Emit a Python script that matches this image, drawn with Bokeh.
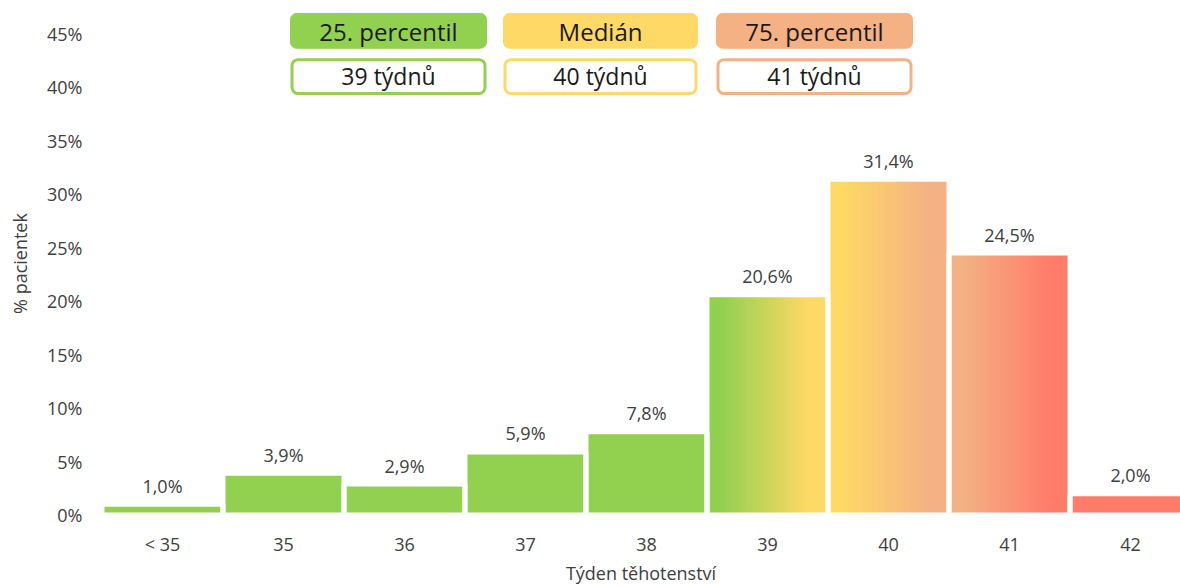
import math
from bokeh.plotting import figure
from bokeh.models import Range1d, FixedTicker, PrintfTickFormatter, BoxAnnotation, Label, ColumnDataSource
from bokeh.core.properties import value
from bokeh.embed import file_html
from bokeh.resources import INLINE

# ---- data ----
categories = ["< 35", "35", "36", "37", "38", "39", "40", "41", "42"]
percent = [1.0, 3.9, 2.9, 5.9, 7.8, 20.6, 31.4, 24.5, 2.0]
y_ticks = [0, 5, 10, 15, 20, 25, 30, 35, 40, 45]
stat_names = ["25. percentil", "Medián", "75. percentil"]
stat_values = ["39 týdnů", "40 týdnů", "41 týdnů"]

# ---- styles ----
GREEN = "#92D050"
YELLOW = "#FFD966"
SALMON = "#F4B183"
RED = "#FF7C69"
bar_colors = [(GREEN, GREEN)] * 5 + [(GREEN, YELLOW), (YELLOW, SALMON), (SALMON, RED), (RED, RED)]
stat_colors = [GREEN, YELLOW, SALMON]
FONT = "Open Sans"
TXT = "#404040"

W, H = 1180, 587
LEFT = 101
BOTTOM = 58            # frame bottom at H - BOTTOM
BASE = 517.5           # pixel row of the 0 % baseline
PX_PER_CAT = 121
PX_PER_PCT = 10.756
x0 = -0.504
x1 = x0 + (W - LEFT) / PX_PER_CAT
y0 = -((H - BOTTOM) - BASE) / PX_PER_PCT
y1 = BASE / PX_PER_PCT

p = figure(width=W, height=H, output_backend="svg", toolbar_location=None,
           x_range=Range1d(x0, x1), y_range=Range1d(y0, y1),
           min_border_left=LEFT, min_border_right=0, min_border_top=0,
           min_border_bottom=BOTTOM)
p.outline_line_color = None
p.xgrid.grid_line_color = None
p.ygrid.grid_line_color = None
p.background_fill_color = "white"
p.border_fill_color = "white"


def px_x(px):
    return x0 + (px - LEFT) / PX_PER_CAT


def px_y(py):
    return (BASE - py) / PX_PER_PCT


def hexrgb(h):
    h = h.lstrip("#")
    return tuple(int(h[i:i + 2], 16) for i in (0, 2, 4))


def mix(a, b, t):
    ra, rb = hexrgb(a), hexrgb(b)
    return "#%02x%02x%02x" % tuple(round(ra[k] + (rb[k] - ra[k]) * t) for k in range(3))


# ---- bars (gradient via vertical slices, white outline on top) ----
HALF = 0.5
N = 60
lefts, rights, tops, cols = [], [], [], []
for i, v in enumerate(percent):
    ca, cb = bar_colors[i]
    if ca == cb:
        lefts.append(i - HALF); rights.append(i + HALF); tops.append(v); cols.append(ca)
        continue
    w = 2 * HALF / N
    for k in range(N):
        t = (k + 0.5) / N
        tt = min(max((t - 0.12) / 0.72, 0.0), 1.0)
        l = i - HALF + k * w
        r = l + w * (1.6 if k < N - 1 else 1.0)
        lefts.append(l); rights.append(r); tops.append(v); cols.append(mix(ca, cb, tt))

src = ColumnDataSource(dict(left=lefts, right=rights, top=tops, bottom=[0] * len(tops), color=cols))
p.quad(left="left", right="right", top="top", bottom="bottom", fill_color="color",
       line_color=None, source=src)
out_src = ColumnDataSource(dict(left=[i - HALF for i in range(len(percent))],
                                right=[i + HALF for i in range(len(percent))],
                                top=percent, bottom=[0] * len(percent)))
p.quad(left="left", right="right", top="top", bottom="bottom", fill_color=None,
       line_color="white", line_width=5, source=out_src)

# ---- value labels ----
lab_src = ColumnDataSource(dict(x=list(range(len(percent))), y=percent,
                                t=[("%.1f" % v).replace(".", ",") + "%" for v in percent]))
p.text(x="x", y="y", text="t", source=lab_src, text_align="center", text_baseline="middle",
       y_offset=-18.5, text_font=value(FONT), text_font_size="18px", text_color=TXT)

# ---- axes ----
p.xaxis.ticker = FixedTicker(ticks=list(range(len(categories))))
p.xaxis.major_label_overrides = {i: c for i, c in enumerate(categories)}
p.yaxis.ticker = FixedTicker(ticks=y_ticks)
p.yaxis.formatter = PrintfTickFormatter(format="%d%%")
for ax in (p.xaxis[0], p.yaxis[0]):
    ax.axis_line_color = None
    ax.major_tick_line_color = None
    ax.minor_tick_line_color = None
    ax.major_tick_out = 0
    ax.major_tick_in = 0
    ax.major_label_text_font = FONT
    ax.major_label_text_font_size = "18px"
    ax.major_label_text_color = TXT
    ax.axis_label_text_font = FONT
    ax.axis_label_text_font_size = "18px"
    ax.axis_label_text_font_style = "normal"
    ax.axis_label_text_color = TXT
p.xaxis.major_label_standoff = 5
p.xaxis.axis_label_standoff = 2
p.yaxis.major_label_standoff = 19
p.yaxis.axis_label_standoff = 12
p.xaxis.axis_label = "Týden těhotenství"
p.yaxis.axis_label = "% pacientek"

# ---- percentile boxes ----
box_x = [(290, 486), (503, 697), (716, 912)]
for (a, b), name, val, c in zip(box_x, stat_names, stat_values, stat_colors):
    p.add_layout(BoxAnnotation(left=px_x(a), right=px_x(b), top=px_y(13), bottom=px_y(48),
                               fill_color=c, fill_alpha=1, line_color=c, line_alpha=1,
                               line_width=1, border_radius=6))
    p.add_layout(BoxAnnotation(left=px_x(a + 1.5), right=px_x(b - 1.5), top=px_y(59.5), bottom=px_y(93.5),
                               fill_color="white", fill_alpha=1, line_color=c, line_alpha=1,
                               line_width=3, border_radius=6))
    p.add_layout(Label(x=px_x((a + b) / 2), y=px_y(31), text=name, text_align="center",
                       text_baseline="middle", text_font=FONT, text_font_size="24px",
                       text_color="#1a1a1a"))
    p.add_layout(Label(x=px_x((a + b) / 2), y=px_y(76), text=val, text_align="center",
                       text_baseline="middle", text_font=FONT, text_font_size="23px",
                       text_color="#1a1a1a"))

open("out.html", "w").write(file_html(p, INLINE))
